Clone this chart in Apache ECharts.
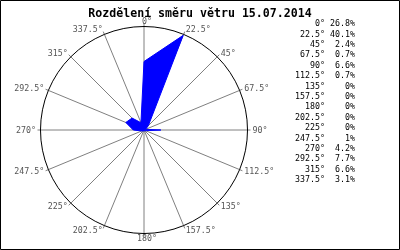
<!DOCTYPE html>
<html><head><meta charset="utf-8">
<script src="https://cdn.jsdelivr.net/npm/echarts@6/dist/echarts.min.js"></script>
<style>html,body{margin:0;padding:0;background:#fff}#c{width:400px;height:250px}</style>
</head><body><div id="c"></div>
<script>
const titleText = 'Rozdělení směru větru 15.07.2014';
const directions = [0, 22.5, 45, 67.5, 90, 112.5, 135, 157.5, 180, 202.5, 225, 247.5, 270, 292.5, 315, 337.5];
const values = [26.8, 40.1, 2.4, 0.7, 6.6, 0.7, 0, 0, 0, 0, 0, 1, 4.2, 7.7, 6.6, 3.1];
const radiusMax = 40.5;

const mono = 'DejaVu Sans Mono';
const font = '8.3px "' + mono + '"';
const chart = echarts.init(document.getElementById('c'), null, {renderer: 'canvas'});

const seriesData = directions.map((d, i) => [values[i], d]);
seriesData.push([values[0], 360]);

const legendEls = [];
directions.forEach((d, i) => {
  const y = 24 + i * 10.4;
  legendEls.push({type: 'text', x: 325, y: y, style: {text: d + '°', textAlign: 'right', textVerticalAlign: 'middle', font: font, fill: '#000'}});
  legendEls.push({type: 'text', x: 355, y: y, style: {text: values[i] + '%', textAlign: 'right', textVerticalAlign: 'middle', font: font, fill: '#000'}});
});

const angleBase = {type: 'value', min: 0, max: 360, interval: 22.5, startAngle: 90, clockwise: true, axisTick: {show: false}};

chart.setOption({
  animation: false,
  backgroundColor: '#fff',
  title: {text: titleText, left: 'center', top: 3, textStyle: {fontFamily: mono, fontWeight: 'bold', fontSize: 11.6, color: '#000'}},
  polar: [{center: [144, 130], radius: 106.5}, {center: [144, 130], radius: 103.5}],
  angleAxis: [
    Object.assign({polarIndex: 0, axisLine: {show: false}, axisLabel: {show: false},
      splitLine: {show: true, lineStyle: {color: '#808080', width: 1}}}, angleBase),
    Object.assign({polarIndex: 1, axisLine: {show: true, lineStyle: {color: '#000', width: 1}}, axisLabel: {show: false},
      splitLine: {show: false}}, angleBase)
  ],
  radiusAxis: [
    {polarIndex: 0, type: 'value', min: 0, max: radiusMax, show: false},
    {polarIndex: 1, type: 'value', min: 0, max: radiusMax, show: false}
  ],
  series: [{
    type: 'line', coordinateSystem: 'polar', polarIndex: 1, data: seriesData, symbol: 'none',
    lineStyle: {color: '#0000ff', width: 1}, areaStyle: {color: '#0000ff', opacity: 1}, z: 3
  }],
  graphic: [
    {type: 'rect', shape: {x: 0.5, y: 0.5, width: 399, height: 249}, style: {fill: null, stroke: '#000', lineWidth: 1}, z: 100},
    ...legendEls
  ]
});

// angle labels placed through the outer (spoke) polar coordinate system
const labelEls = directions.map(d => {
  const p = chart.convertToPixel({polarIndex: 0}, [radiusMax, d]);
  const rad = d * Math.PI / 180;
  const sx = Math.sin(rad), sy = -Math.cos(rad);
  let align, x;
  if (Math.abs(sx) < 0.3) { align = 'center'; x = p[0] + 3; }
  else if (sx > 0) { align = 'left'; x = p[0] + 1.5 * sx + 0.5; }
  else { align = 'right'; x = p[0] + 1.5 * sx; }
  const y = p[1] + 2 * sy + 0.5;
  return {type: 'text', x: x, y: y, style: {text: d + '°', textAlign: align, textVerticalAlign: 'middle', font: font, fill: '#555'}, z: 50};
});
chart.setOption({graphic: [
  {type: 'rect', shape: {x: 0.5, y: 0.5, width: 399, height: 249}, style: {fill: null, stroke: '#000', lineWidth: 1}, z: 100},
  ...legendEls, ...labelEls
]}, {replaceMerge: ['graphic']});
</script></body></html>
